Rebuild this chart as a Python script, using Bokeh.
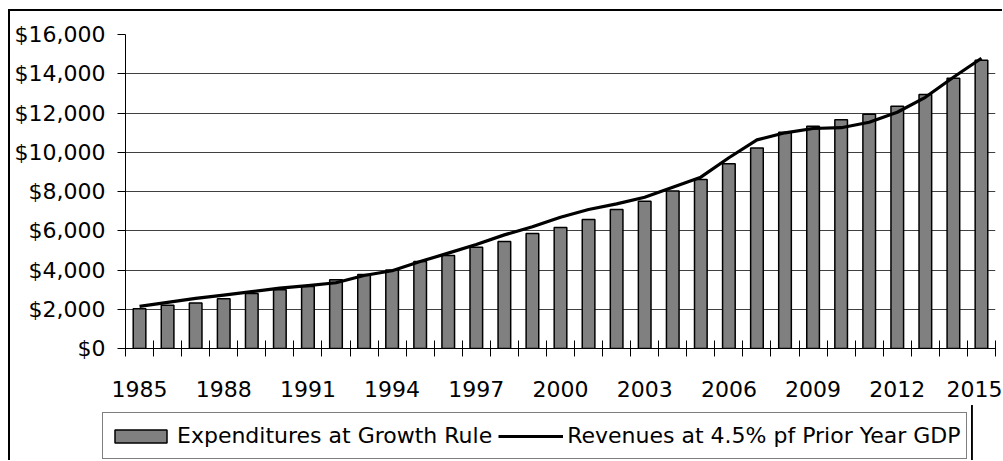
from bokeh.plotting import figure
from bokeh.layouts import column
from bokeh.models import (Range1d, FixedTicker, NumeralTickFormatter, Legend,
                          LegendItem, ColumnDataSource, LinearAxis)
from bokeh.embed import file_html
from bokeh.resources import INLINE

years = list(range(1985, 2016))
expenditures = [2020, 2200, 2320, 2540, 2800, 3000, 3160, 3500, 3770, 4000,
                4430, 4740, 5160, 5450, 5860, 6170, 6570, 7080, 7500, 8020,
                8610, 9410, 10220, 11020, 11330, 11650, 11940, 12350, 12940,
                13770, 14690]
revenues = [2150, 2350, 2550, 2720, 2900, 3080, 3200, 3350, 3720, 3960,
            4430, 4860, 5300, 5790, 6200, 6690, 7080, 7370, 7710, 8220,
            8730, 9720, 10630, 10990, 11210, 11250, 11530, 12040, 12800,
            13820, 14790]
label_years = [1985, 1988, 1991, 1994, 1997, 2000, 2003, 2006, 2009, 2012, 2015]
y_ticks = [0, 2000, 4000, 6000, 8000, 10000, 12000, 14000, 16000]
series_names = ["Expenditures at Growth Rule", "Revenues at 4.5% pf Prior Year GDP"]

FONT = "DejaVu Sans"
BAR_STYLE = dict(fill_color="#808080", line_color="black", line_width=1.5)
LINE_STYLE = dict(line_color="black", line_width=3.2, line_join="round")

src = ColumnDataSource(dict(year=years, exp=expenditures, rev=revenues))

W = 992
p = figure(width=W, height=394,
           x_range=Range1d(years[0] - 0.5, years[-1] + 0.5),
           y_range=Range1d(y_ticks[0], y_ticks[-1]),
           x_axis_location=None,
           output_backend="svg", toolbar_location=None,
           min_border_left=115, min_border_right=7,
           min_border_top=23, min_border_bottom=57)
p.outline_line_color = None
p.background_fill_color = "white"
p.border_fill_color = "white"

bars = p.vbar(x="year", top="exp", width=0.45, source=src, **BAR_STYLE)
line = p.line(x="year", y="rev", source=src, **LINE_STYLE)

boundaries = [y - 0.5 for y in years] + [years[-1] + 0.5]

# axis with the category boundary tick marks
xa = LinearAxis(ticker=FixedTicker(ticks=boundaries))
xa.major_tick_in = 8
xa.major_tick_out = 8
xa.major_tick_line_color = "black"
xa.minor_tick_line_color = None
xa.axis_line_color = "black"
xa.major_label_standoff = 0
xa.major_label_text_font_size = "0px"
xa.major_label_text_alpha = 0
p.add_layout(xa, "below")

# axis carrying the year labels (centred under the bars)
xl = LinearAxis(ticker=FixedTicker(ticks=label_years))
xl.major_tick_in = 0
xl.major_tick_out = 0
xl.minor_tick_line_color = None
xl.major_tick_line_color = None
xl.axis_line_color = None
xl.major_label_standoff = 24
xl.major_label_text_font = FONT
xl.major_label_text_font_size = "22px"
xl.major_label_text_color = "black"
p.add_layout(xl, "below")

ya = p.yaxis[0]
ya.ticker = FixedTicker(ticks=y_ticks)
ya.formatter = NumeralTickFormatter(format="$0,0")
ya.major_tick_in = 0
ya.major_tick_out = 8
ya.minor_tick_in = 0
ya.minor_tick_out = 0
ya.major_tick_line_color = "black"
ya.axis_line_color = "black"
ya.major_label_standoff = 12
ya.major_label_text_font = FONT
ya.major_label_text_font_size = "22px"
ya.major_label_text_color = "black"

p.xgrid.grid_line_color = None
p.ygrid.ticker = FixedTicker(ticks=y_ticks)
p.ygrid.grid_line_color = "#404040"
p.ygrid.grid_line_width = 1

# legend strip below the chart (its renderers use the same data, but lie
# outside this strip's visible range, so only their legend swatches show)
SHIFT = 23
LH = 55
QW = W + SHIFT
q = figure(width=QW, height=LH, x_range=Range1d(0, QW), y_range=Range1d(0, LH),
           x_axis_location=None, y_axis_location=None,
           output_backend="svg", toolbar_location=None,
           min_border_left=115, min_border_right=0,
           min_border_top=0, min_border_bottom=0)
q.margin = (0, 0, 0, -SHIFT)
q.outline_line_color = None
q.xgrid.grid_line_color = None
q.ygrid.grid_line_color = None
q.background_fill_alpha = 0
q.border_fill_alpha = 0
lbar = q.vbar(x="year", top="exp", width=0.45, source=src, **BAR_STYLE)
lline = q.line(x="year", y="rev", source=src, **LINE_STYLE)

legend = Legend(items=[LegendItem(label=series_names[0], renderers=[lbar]),
                       LegendItem(label=series_names[1], renderers=[lline])],
                location=(0, 1), orientation="horizontal",
                glyph_width=65, glyph_height=16, label_standoff=4,
                spacing=6, padding=5, margin=0, label_height=35,
                label_text_font=FONT, label_text_font_size="22px",
                label_text_color="black",
                border_line_color="black", border_line_width=1,
                background_fill_color="white", background_fill_alpha=1)
q.add_layout(legend)

layout = column(p, q, spacing=0)
layout.styles = {"margin-left": "8px", "margin-top": "9px",
                 "border-left": "2px solid black", "border-top": "2px solid black"}

open("out.html", "w").write(file_html(layout, INLINE))
